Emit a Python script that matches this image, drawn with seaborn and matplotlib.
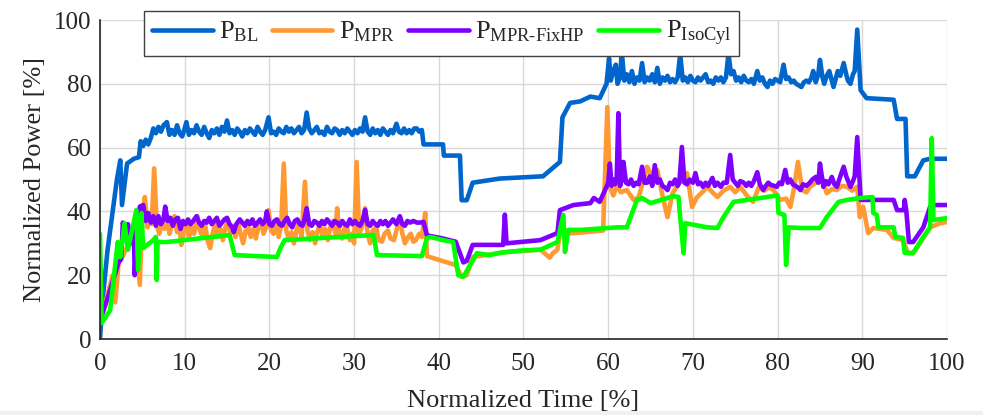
import numpy as np
import pandas as pd
import seaborn as sns
import matplotlib
matplotlib.use("Agg")
import matplotlib.pyplot as plt
from matplotlib.patches import Rectangle

# values (normalized time %, normalized power %)
bl_t = [0, 0.3, 0.9, 1.5, 2.0, 2.4, 2.6, 3.2, 4.0, 4.6,
        4.8, 5.1, 5.4, 5.7, 6.0, 6.3, 6.6, 6.9, 7.2, 7.5, 7.9, 8.2, 8.5, 8.8, 9.1, 9.4, 9.7, 10.0, 10.2,
        10.5, 10.8, 11.1, 11.4, 11.7, 12.0, 12.3, 12.6, 12.9, 13.2, 13.5, 13.8, 14.1, 14.4, 14.7, 15.0,
        15.3, 15.6, 15.9, 16.2, 16.5, 16.8, 17.1, 17.4, 17.7, 18.0, 18.3, 18.6, 18.9, 19.2, 19.5, 19.9,
        20.2, 20.5, 20.8, 21.1, 21.4, 21.7, 22.0, 22.3, 22.6, 22.9, 23.2, 23.5, 23.8, 24.1, 24.4, 24.7,
        25.0, 25.3, 25.6, 25.9, 26.2, 26.5, 26.8, 27.1, 27.4, 27.7, 28.0, 28.3, 28.6, 28.9, 29.2, 29.5,
        29.8, 30.1, 30.4, 30.7, 31.0, 31.3, 31.6, 31.9, 32.2, 32.5, 32.8, 33.1, 33.4, 33.7, 34.0, 34.3,
        34.6, 35.0, 35.3, 35.6, 35.9, 36.2, 36.5, 36.8, 37.1, 37.4, 37.7, 38.0,
        38.2, 40.5, 40.6, 42.5, 42.7, 43.3, 44.0, 47.2, 52.3, 54.3, 54.6, 55.5, 56.7, 57.9, 59.0,
        59.8, 60.1, 60.3, 60.6, 60.9, 61.1, 61.4, 61.6, 61.9, 62.2, 62.5, 62.8, 63.1, 63.4, 63.7, 64.0,
        64.3, 64.6, 64.9, 65.2, 65.5, 65.8, 66.1, 66.4, 66.7, 67.0, 67.3, 67.6, 67.9, 68.2, 68.5, 68.8,
        69.1, 69.4, 69.7, 70.0, 70.3, 70.6, 70.9, 71.2, 71.5, 71.8, 72.1, 72.4, 72.7, 73.0, 73.3, 73.6,
        73.9, 74.2, 74.5, 74.8, 75.1, 75.4, 75.7, 76.0, 76.3, 76.6, 76.9, 77.2, 77.6, 77.9, 78.2, 78.5,
        78.8, 79.1, 79.4, 79.7, 80.0, 80.3, 80.7, 81.0, 81.3, 81.6, 81.9, 82.2, 82.5, 82.8, 83.1, 83.4,
        83.7, 84.0, 84.2, 84.5, 84.8, 85.0, 85.3, 85.5, 85.8, 86.1, 86.4, 86.6, 86.9, 87.1, 87.4, 87.8,
        88.1, 88.3, 88.6, 88.9, 89.1, 89.4,
        89.8, 90.5, 93.7, 94.1, 95.1, 95.3, 96.2, 97.2, 98.0, 100]
bl_p = [0, 12, 28, 40, 50, 56, 42, 55, 56.5, 57,
        62, 60.5, 62.5, 61, 63, 66, 64.5, 66.5, 65, 67, 68, 64, 65.5, 64, 67, 64.5, 63.5, 66, 68,
        64, 65.5, 64.5, 67, 65, 64, 66.5, 64.5, 63, 65.5, 64.5, 66, 64, 66.5, 65, 68.5,
        64.5, 65.5, 64, 66, 65, 63.5, 65.5, 64.5, 66, 65, 64, 66.5, 65, 64, 65.5, 69.5,
        64.5, 65, 64, 66, 65, 64.5, 66.5, 65, 66, 64.5, 65.5, 66.5, 64.5, 65.5, 71, 66,
        64.5, 65.5, 66.5, 64.5, 65, 64, 66.5, 65, 64.5, 66, 65.5, 64, 65.5, 64.5, 66, 65,
        64, 65.5, 64.5, 66, 65, 69.5, 65, 64, 66, 64.5, 65.5, 64, 66, 65, 64, 65.5,
        64.5, 67.5, 65, 64.5, 66, 64.5, 65.5, 64.5, 66, 66, 65, 65.5,
        61, 61, 57.5, 57.5, 43.5, 43.5, 49, 50.3, 51, 55.5, 69.5, 74, 74.5, 76, 75.5,
        80, 88, 81, 84, 86, 80, 82, 90, 81, 83, 80.5, 84, 80, 82, 81, 86.5,
        80.5, 82, 81, 83, 80.5, 85, 80, 82, 81, 82.5, 80.5, 81.5, 80.5, 82, 89.5, 81,
        82, 80.5, 82.5, 81, 80.5, 82, 81, 82, 83, 80.5, 81, 80, 82, 81, 82, 80.5,
        82, 89.5, 83, 84, 81, 82, 80.5, 82.5, 81, 80.5, 81.5, 80, 84, 81, 82, 80,
        79, 81, 80, 81.5, 81, 80.5, 86, 81.5, 82, 80.5, 81, 80, 79.5, 79, 80.5, 81,
        80.5, 82, 84, 80.5, 83, 87.5, 82, 80, 82.5, 84, 81, 79, 82, 84, 82.5, 86.5,
        83, 81, 80, 83, 84, 97,
        78, 75.5, 75, 69, 69, 51, 51, 56, 56.5, 56.5]

mpr_t = [0, 0.5, 1.0, 1.5, 1.8, 2.2, 2.7, 3.2, 3.7, 4.2, 4.7,
         5.0, 5.3, 5.6, 5.9, 6.1, 6.4, 6.7, 7.0, 7.3, 7.6, 7.9, 8.2, 8.5, 8.8, 9.1, 9.4, 9.6, 9.9, 10.2,
         10.5, 10.8, 11.1, 11.5, 11.8, 12.1, 12.4, 12.7, 13.0, 13.3, 13.6, 13.9, 14.2, 14.5, 14.8, 15.1,
         15.4, 15.7, 16.0, 16.3, 16.6, 16.9, 17.2, 17.5, 17.8, 18.1, 18.4, 18.7, 19.0, 19.3, 19.6, 19.9,
         20.2, 20.5, 20.8, 21.1, 21.4, 21.7, 22.0, 22.3, 22.6, 22.9, 23.2, 23.5, 23.8, 24.2, 24.5, 24.8,
         25.1, 25.4, 25.7, 26.0, 26.3, 26.6, 26.9, 27.2, 27.5, 27.8, 28.0, 28.3, 28.6, 28.9, 29.2, 29.5,
         29.8, 30.0, 30.3, 30.6, 30.9, 31.3, 31.6, 31.9, 32.2, 32.6, 32.9, 33.3, 33.6, 34.0, 34.3, 34.7,
         35.0, 35.4, 35.7, 36.0, 36.4, 36.7, 37.0, 37.3, 37.7, 38.0, 38.4,
         38.6, 40.0, 42.0, 42.7, 43.3, 44.0, 48.0, 52.0, 53.1, 53.5, 54.0, 54.3, 56.0, 59.4,
         59.9, 60.2, 60.6, 61.0, 61.5, 62.2, 63.0, 63.6, 64.6, 65.2, 65.8, 66.4, 67.0, 67.6, 68.4, 69.3,
         69.9, 70.5, 71.1, 71.7, 72.3, 72.9, 73.6, 74.4, 75.0, 75.6, 76.5, 77.1, 77.8, 78.4, 79.0, 79.5,
         80.3, 81.0, 81.5, 81.9, 82.4, 82.9, 83.4, 83.8, 84.5, 85.2, 85.8, 86.4, 87.0, 87.6, 88.2, 88.8,
         89.4, 89.7, 90.1, 90.7, 91.3, 92.9, 93.7, 94.8, 95.4, 96.0, 96.8, 98.0, 99.2, 100]
mpr_p = [7, 10, 15, 20, 11.5, 24, 26, 29, 32, 36, 17,
         38, 44.5, 35, 38, 36, 53.5, 36, 33, 37, 34.5, 38, 33, 36, 38.5, 33.5, 35, 29.5, 34, 36.5,
         32, 35, 33, 38.5, 34, 32, 36, 31, 28.5, 33, 36, 32, 34.5, 31, 35, 37,
         33, 35.5, 32, 36.5, 33, 30, 34, 35, 32, 34.5, 31.5, 35, 37, 33, 35, 40.4,
         34, 33, 36, 32, 36, 55, 34, 31, 33.5, 30, 34, 36.5, 32, 49.3, 34, 31,
         33.5, 30, 34, 36, 32, 34.5, 31, 35, 37, 33, 41, 32, 31.5, 35, 34.5, 31,
         33, 30, 55.5, 33, 35, 41, 33, 30, 34, 35, 31, 30.5, 33, 34, 31.5, 31,
         34, 38, 33, 30, 32, 33, 30.5, 31, 33, 32, 39.5,
         26, 24.8, 23.2, 19.5, 20, 25.7, 27.3, 28, 25.5, 27, 28, 33, 33.2, 34,
         72.7, 47.7, 45, 48, 46, 46.7, 43.6, 44.5, 54, 50.8, 53, 45, 38.2, 45.7, 49, 52,
         41.4, 44.5, 46, 47.7, 46, 44.5, 46.5, 47.7, 46, 47.7, 44.5, 43, 47.7, 46.5, 47.5, 46.7,
         43.6, 44, 41.4, 46.7, 55.5, 46.7, 46, 47.7, 49, 50.8, 45.7, 47, 46.7, 48, 47.7, 46.5,
         47.7, 38.2, 41.4, 33.2, 34.8, 34.2, 31.7, 31, 26.9, 26.9, 30, 35, 36.3, 36.7]

fix_t = [0, 0.3, 0.8, 1.5, 2.2, 2.5, 2.7, 3.0, 3.3, 3.7, 4.0, 4.1, 4.3, 4.7,
         5.1, 5.4, 5.7, 6.0, 6.3, 6.6, 6.9, 7.2, 7.5, 7.7, 8.0, 8.3, 8.6, 8.9, 9.2, 9.5, 9.8, 10.1,
         10.4, 10.7, 11.0, 11.4, 11.7, 12.0, 12.3, 12.6, 12.9, 13.2, 13.5, 13.8, 14.1, 14.4, 14.7, 15.0,
         15.3, 15.6, 15.8, 16.1, 16.5, 16.8, 17.1, 17.4, 17.7, 18.0, 18.3, 18.6, 18.9, 19.2, 19.5, 19.7,
         20.0, 20.3, 20.6, 20.9, 21.2, 21.5, 21.8, 22.1, 22.4, 22.7, 23.0, 23.3, 23.6, 23.9, 24.1, 24.4,
         24.7, 25.0, 25.3, 25.6, 25.9, 26.2, 26.5, 26.8, 27.1, 27.4, 27.7, 28.0, 28.3, 28.6, 28.9, 29.2,
         29.5, 29.8, 30.1, 30.4, 30.7, 31.0, 31.3, 31.6, 31.9, 32.2, 32.5, 32.8, 33.1, 33.4, 33.7, 34.0,
         34.3, 34.6, 35.0, 35.4, 35.7, 36.0, 36.3, 36.6, 37.0, 37.4, 37.8, 38.2,
         38.6, 40.5, 42.0, 42.9, 43.3, 44.0, 47.6, 47.8, 48.0, 52.0, 54.0, 54.3, 55.9, 57.9, 58.3, 59.0,
         59.8, 60.0, 60.2, 60.4, 60.6, 60.8, 61.0, 61.2, 61.4, 61.6, 61.8, 62.1, 62.4, 62.7, 63.0, 63.3,
         63.6, 64.0, 64.3, 64.6, 64.9, 65.2, 65.5, 65.8, 66.1, 66.4, 66.7, 67.0, 67.3, 67.6, 67.9, 68.2,
         68.4, 68.7, 69.0, 69.3, 69.6, 70.0, 70.3, 70.6, 70.9, 71.2, 71.5, 71.8, 72.1, 72.3, 72.6, 72.9,
         73.3, 73.6, 74.0, 74.4, 74.7, 75.0, 75.3, 75.6, 76.0, 76.3, 76.6, 76.9, 77.2, 77.6, 77.9, 78.3,
         78.6, 78.9, 79.2, 79.6, 79.9, 80.2, 80.5, 80.9, 81.2, 81.5, 81.8, 82.1, 82.4, 82.7, 83.0, 83.4,
         83.8, 84.1, 84.5, 84.8, 85.0, 85.4, 85.7, 86.0, 86.4, 86.7, 87.0, 87.4, 87.8, 88.1, 88.4, 88.6,
         88.9, 89.1, 89.4,
         89.8, 93.7, 94.1, 94.9, 95.0, 95.2, 95.5, 96.0, 97.2, 98.0, 98.6, 100]
fix_p = [5, 8, 12, 18, 24, 25, 36.5, 33, 36, 30, 34, 20, 30, 41.5,
         42, 37, 39.5, 36.5, 38.5, 35.5, 38.5, 36, 37.5, 41.5, 37, 38, 35.5, 37.5, 38, 34.5, 37, 36,
         37.5, 36, 37, 38.5, 36.5, 35.5, 37, 36.5, 38, 36, 37, 38, 35.5, 36.5, 37.5, 38,
         36, 35, 33.5, 36, 37.5, 36.5, 35.5, 37, 36, 37.5, 35.5, 36.5, 37.5, 36, 37, 40,
         36, 35.5, 37, 37.5, 36, 35.5, 37, 38, 36, 35, 37, 37.5, 36, 35.5, 37, 41,
         36, 35.5, 37, 36.5, 35.5, 37, 36, 37.5, 36.5, 35.5, 37, 36.5, 35.5, 37, 36, 35.5,
         37.5, 36, 37, 36, 35.5, 37, 40.5, 36, 35.5, 37, 36, 35.5, 37, 36, 37, 35.5,
         36.5, 37.5, 36, 38.5, 36, 35.5, 37, 36.5, 37, 36.5, 36.5, 36.7,
         32.5, 31.5, 30.5, 24, 24.5, 29.5, 29.5, 39, 30, 31, 33.2, 40.4, 42, 42.6, 44.2, 43,
         47.7, 49, 55, 48, 50, 48.5, 50, 70.8, 48, 50, 55.5, 49, 48.5, 50, 48, 49,
         48.5, 54, 49, 49, 51, 48, 54.5, 49, 50, 48, 47.5, 46.7, 49, 48.5, 50, 48,
         49, 60.2, 49, 48.5, 50, 49, 52, 48.5, 49, 47.7, 49, 48, 49.5, 50.5, 48, 49,
         47.7, 49, 49, 57.7, 50, 49, 48, 49.5, 49, 48, 49, 48, 49.5, 52.3, 48.5, 46.7,
         48, 49, 48.3, 48, 47.7, 49, 48.5, 53, 49, 50, 48.5, 48, 47.5, 46.7, 48.5, 48,
         49, 50, 50.8, 49, 55, 47.7, 49.5, 48.5, 50.8, 48.5, 47.7, 51, 54, 51, 49, 47.7,
         49.5, 51, 63.3,
         43.6, 43.6, 40.4, 40.4, 43.6, 40, 30.4, 30.4, 35, 41.4, 42, 42]

iso_t = [0, 0.2, 1.2, 2.1, 2.4, 2.9, 3.3, 4.3, 4.5, 4.9, 5.1, 6.3, 6.6, 6.7, 6.8, 7.9, 15.3, 15.9, 20.9,
         21.3, 21.8, 32.3, 32.7, 38.0, 38.6, 39.0, 40.5, 41.7, 42.3, 42.9, 43.7, 44.5, 46.0, 47.2, 50.0, 52.0,
         54.0, 54.7, 54.9, 55.3, 56.7, 61.0, 62.2, 62.6, 63.4, 64.0, 65.0, 67.7, 68.3, 68.5, 68.9, 69.1, 71.7,
         72.9, 73.6, 74.8, 76.4, 80.0, 80.1, 80.8, 81.0, 81.3, 82.7, 85.0, 85.8, 87.2, 88.2, 89.7, 91.2, 91.3,
         91.7, 91.9, 93.7, 93.9, 94.8, 95.0, 96.0, 97.2, 98.0, 98.2, 98.4, 100]
iso_p = [33, 5, 9, 30.4, 25.7, 36.3, 28, 40.4, 21.6, 39.5, 28.5, 31, 32, 18.5, 30.4, 30.4, 32.6, 26.3, 25.7,
         28.5, 31, 32.6, 26.3, 26, 31.6, 32, 31, 30.4, 20, 19.5, 23.2, 26.9, 26.3, 27, 27.8, 28,
         30.4, 38.9, 27.3, 34.2, 34.2, 35, 35, 37.9, 43.6, 44.2, 42.6, 44.8, 44.5, 38.2, 26.9, 36.3, 35,
         34.8, 38.2, 43, 43.6, 45, 39.5, 38.9, 23.2, 35, 34.8, 34.8, 38.2, 43, 43.6, 44.2, 44.5, 39.5,
         38.9, 35, 35, 32, 31.7, 27, 27, 32, 35, 63, 37.3, 37.9]

series_names = [r"P$_{\mathrm{BL}}$", r"P$_{\mathrm{MPR}}$",
                r"P$_{\mathrm{MPR\text{-}FixHP}}$", r"P$_{\mathrm{IsoCyl}}$"]
colors = ["#0066cc", "#ff9933", "#7f00ff", "#00ff00"]

frames = []
for name, t, p in zip(series_names, [bl_t, mpr_t, fix_t, iso_t], [bl_p, mpr_p, fix_p, iso_p]):
    frames.append(pd.DataFrame({"t": t, "p": p, "series": name}))
df = pd.concat(frames, ignore_index=True)

sns.set_style("whitegrid", {"grid.color": "#d9d9d9", "axes.edgecolor": "#262626"})
plt.rcParams["font.family"] = ["Liberation Serif", "DejaVu Serif"]
plt.rcParams["mathtext.fontset"] = "custom"
plt.rcParams["mathtext.rm"] = "Liberation Serif"
plt.rcParams["mathtext.it"] = "Liberation Serif:italic"

fig = plt.figure(figsize=(9.83, 4.15), dpi=100)
ax = fig.add_axes([0.1017, 0.1831, 0.8617, 0.7687])

sns.lineplot(data=df, x="t", y="p", hue="series", palette=colors, hue_order=series_names,
             estimator=None, sort=False, linewidth=3.3, legend=False, ax=ax)

ax.set_xlim(0, 100)
ax.set_ylim(0, 100)
ax.set_xticks(np.arange(0, 101, 10))
ax.set_yticks(np.arange(0, 101, 20))
ax.tick_params(direction="in", length=7, width=1, labelsize=18, colors="#262626", pad=6)
ax.tick_params(axis="x", pad=10)
for lbl in ax.get_xticklabels() + ax.get_yticklabels():
    lbl.set_fontfamily("Liberation Serif")
ax.set_xlabel("Normalized Time [%]", fontsize=19, color="#262626", labelpad=11)
ax.set_ylabel("Normalized Power [%]", fontsize=19, color="#262626", labelpad=6)
ax.grid(True, linewidth=1)
for side in ["top", "right"]:
    ax.spines[side].set_visible(False)
for side in ["left", "bottom"]:
    ax.spines[side].set_linewidth(1.2)

leg = ax.legend(handles=ax.lines[:4], labels=series_names, ncol=4, loc="upper left",
                bbox_to_anchor=(0.052, 1.027), fontsize=19, frameon=True, fancybox=False,
                handlelength=2.3, handletextpad=0.25, columnspacing=0.5, borderpad=0.3,
                borderaxespad=0)
leg.get_frame().set_edgecolor("#404040")
leg.get_frame().set_linewidth(1.0)
leg.get_frame().set_alpha(1)

fig.patches.append(Rectangle((0, 0), 1, 4 / 415, transform=fig.transFigure,
                             facecolor="#f0f0f0", edgecolor="none"))

fig.savefig("out.png", dpi=100)
